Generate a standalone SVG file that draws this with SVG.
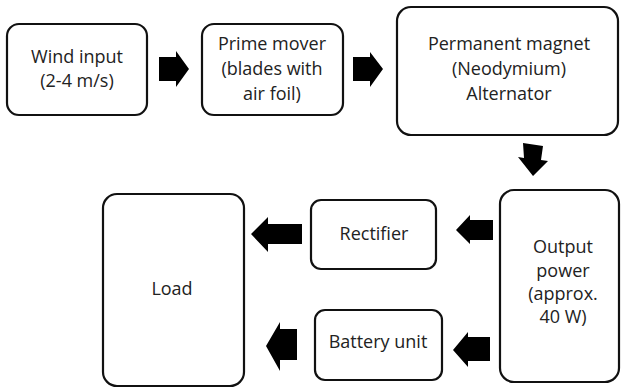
<svg xmlns="http://www.w3.org/2000/svg" width="621" height="388" viewBox="0 0 621 388">
<style>
.box{fill:#fff;stroke:#111;stroke-width:2.2}
.t{font-family:"Open Sans","Noto Sans",sans-serif;font-size:18px;fill:#222;text-anchor:middle}
.arr{fill:#000}
</style>
<rect width="621" height="388" fill="#fff"/>
<g id="wind"><rect class="box" x="7" y="24" width="140" height="91" rx="12"/><text class="t" x="77" y="63">Wind input</text><text class="t" x="77" y="87">(2-4 m/s)</text></g>
<g id="prime"><rect class="box" x="202" y="24" width="141" height="91" rx="12"/><text class="t" x="272" y="50">Prime mover</text><text class="t" x="272" y="75">(blades with</text><text class="t" x="272" y="100">air foil)</text></g>
<g id="alt"><rect class="box" x="397" y="7" width="221" height="128" rx="14"/><text class="t" x="509" y="50">Permanent magnet</text><text class="t" x="509" y="75">(Neodymium)</text><text class="t" x="509" y="100">Alternator</text></g>
<g id="output"><rect class="box" x="500" y="190" width="119" height="192" rx="14"/><text class="t" x="563" y="253">Output</text><text class="t" x="563" y="277">power</text><text class="t" x="563" y="300">(approx.</text><text class="t" x="563" y="323">40 W)</text></g>
<g id="rect"><rect class="box" x="311" y="200" width="125" height="69" rx="10"/><text class="t" x="374" y="240">Rectifier</text></g>
<g id="batt"><rect class="box" x="315" y="310" width="127" height="70" rx="10"/><text class="t" x="378" y="348">Battery unit</text></g>
<g id="load"><rect class="box" x="103" y="194" width="141" height="192" rx="14"/><text class="t" x="172" y="295">Load</text></g>
<g id="connectors">
<polygon class="arr" points="159,57 176,57 176,51 189,69 176,87 176,81 159,81"/>
<polygon class="arr" points="353,57 370,57 370,52 383,69 370,87 370,81 353,81"/>
<polygon class="arr" points="523,143 543,146 541,160 548,161 533,176 518,157 524,158"/>
<polygon class="arr" points="493,220 470,220 470,215 456,230 470,244 470,240 493,240"/>
<polygon class="arr" points="490,337 468,337 468,332 453,350 468,367 468,361 490,361"/>
<polygon class="arr" points="302,224 268,224 268,217 251,234 268,252 268,244 302,244"/>
<polygon class="arr" points="297,329 280,329 280,322 266,346 280,371 280,360 297,360"/>
</g>
</svg>
